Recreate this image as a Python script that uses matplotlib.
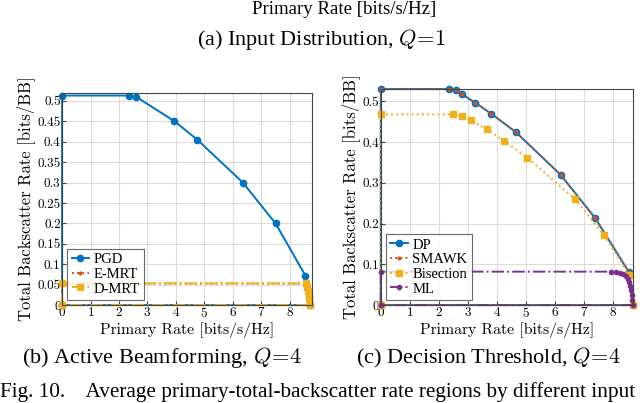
import numpy as np
import matplotlib
matplotlib.use('Agg')
import matplotlib.pyplot as plt

plt.rcParams['mathtext.fontset'] = 'cm'
plt.rcParams['axes.formatter.use_mathtext'] = True

#MATLAB default colours
blue, orange, yellow, purple = '#0072BD', '#D95319', '#EDB120', '#7E2F8E'

#(b) active beamforming
pgd_x = [0, 0, 2.35, 2.6, 3.95, 4.75, 6.35, 7.5, 8.55, 8.7, 0]
pgd_y = [0, 0.513, 0.513, 0.51, 0.45, 0.405, 0.30, 0.20, 0.072, 0, 0]
emrt_x = [0, 0, 8.58, 8.62, 8.65, 8.67, 8.69, 8.7, 0]
emrt_y = [0, 0.053, 0.053, 0.045, 0.035, 0.025, 0.015, 0, 0]
dmrt_x = emrt_x
dmrt_y = emrt_y

#(c) decision threshold
dp_x = [0, 0, 2.35, 2.6, 2.8, 3.25, 3.8, 4.65, 6.2, 7.4, 8.55, 8.7, 0]
dp_y = [0, 0.53, 0.53, 0.527, 0.517, 0.497, 0.47, 0.425, 0.32, 0.213, 0.082, 0, 0]
smawk_x = dp_x
smawk_y = dp_y
bis_x = [0, 0, 2.5, 2.8, 3.1, 3.65, 4.25, 5.05, 6.7, 7.7, 8.55, 8.7, 0]
bis_y = [0, 0.468, 0.468, 0.463, 0.453, 0.432, 0.403, 0.362, 0.26, 0.172, 0.075, 0, 0]
ml_x = [0, 0, 7.95, 8.1, 8.25, 8.35, 8.45, 8.52, 8.57, 8.61, 8.64, 8.66, 8.68, 8.7, 0]
ml_y = [0, 0.082, 0.082, 0.081, 0.079, 0.076, 0.071, 0.065, 0.057, 0.047, 0.036, 0.025, 0.013, 0, 0]

fig = plt.figure(figsize=(6.4, 4.03), dpi=100)
axb = fig.add_axes([0.097, 0.243, 0.39, 0.526])
axc = fig.add_axes([0.595, 0.243, 0.394, 0.536])

kw = dict(lw=1.4, clip_on=False)
axb.plot(pgd_x, pgd_y, '-', color=blue, marker='o', ms=4.5, label='PGD', **kw)
axb.plot(emrt_x, emrt_y, ':', color=orange, marker='o', ms=2, label='E-MRT', **kw)
axb.plot(dmrt_x, dmrt_y, '-.', color=yellow, marker='s', ms=4.5, label='D-MRT', **kw)
axb.set_xlim(0, 8.77)
axb.set_ylim(0, 0.519)
axb.set_xticks(np.arange(0, 9))
axb.set_yticks(np.arange(0, 0.51, 0.05))
axb.set_yticklabels(['0', '0.05', '0.1', '0.15', '0.2', '0.25', '0.3', '0.35', '0.4', '0.45', '0.5'])

axc.plot(dp_x, dp_y, '-', color=blue, marker='o', ms=4.5, label='DP', **kw)
axc.plot(smawk_x, smawk_y, ':', color=orange, marker='o', ms=2, label='SMAWK', **kw)
axc.plot(bis_x, bis_y, ':', color=yellow, marker='s', ms=4.5, label='Bisection', **kw)
axc.plot(ml_x, ml_y, '-.', color=purple, marker='o', ms=3, label='ML', **kw)
axc.set_xlim(0, 8.7)
axc.set_ylim(0, 0.53)
axc.set_xticks(np.arange(0, 9))
axc.set_yticks(np.arange(0, 0.51, 0.1))
axc.set_yticklabels(['0', '0.1', '0.2', '0.3', '0.4', '0.5'])

serif = ['Liberation Serif', 'DejaVu Serif']
for ax in (axb, axc):
  ax.grid(True, color='#dcdcdc', lw=0.8)
  ax.set_axisbelow(True)
  ax.tick_params(direction='in', length=3, labelsize=9.5, pad=1, color='#444444')
  for lab in ax.get_xticklabels() + ax.get_yticklabels():
    lab.set_family('cmr10')
  for s in ax.spines.values():
    s.set_color('#444444')
    s.set_linewidth(0.8)
  ax.set_xlabel('Primary Rate [bits/s/Hz]', family='cmr10', fontsize=11.3, labelpad=1)
  ax.set_ylabel('Total Backscatter Rate [bits/BB]', family='cmr10', fontsize=12, labelpad=2)
  leg = ax.legend(loc='lower left', prop={'family': serif, 'size': 10.5},
                  handlelength=1.2, handletextpad=0.3, borderpad=0.3, labelspacing=0.1,
                  fancybox=False, edgecolor='#444444', borderaxespad=0.35)
  leg.get_frame().set_linewidth(0.8)

fig.text(0.5375, 0.977, 'Primary Rate [bits/s/Hz]', family=serif, fontsize=13.6, ha='center', va='center')
fig.text(0.503, 0.903, r'(a) Input Distribution, $Q\!=\!1$', family=serif, fontsize=16, ha='center', va='center')
fig.text(0.253, 0.112, r'(b) Active Beamforming, $Q\!=\!4$', family=serif, fontsize=16, ha='center', va='center')
fig.text(0.763, 0.112, r'(c) Decision Threshold, $Q\!=\!4$', family=serif, fontsize=16, ha='center', va='center')
fig.text(0.0, 0.027, 'Fig. 10.    Average primary-total-backscatter rate regions by different input',
         family=serif, fontsize=15.3, ha='left', va='center')

fig.savefig('out.png', dpi=100)
